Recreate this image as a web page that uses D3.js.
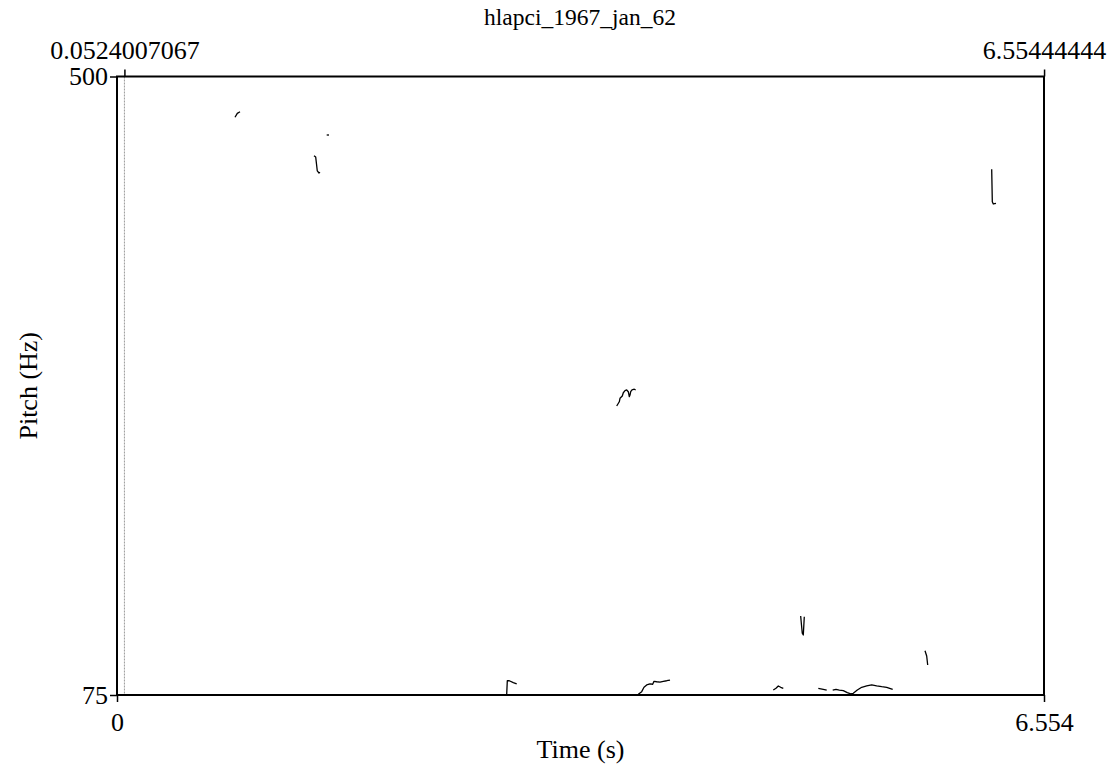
<!DOCTYPE html>
<html>
<head>
<meta charset="utf-8">
<script src="https://cdn.jsdelivr.net/npm/d3@7"></script>
<style>
  html, body { margin: 0; padding: 0; background: #fff; }
  svg { display: block; }
  text { font-family: "Liberation Serif", "Times New Roman", serif; fill: #000; }
</style>
</head>
<body>
<svg id="chart" width="1110" height="765"></svg>
<script>
// ---- data ----
const title = "hlapci_1967_jan_62";
const xDomain = [0, 6.554];
const yDomain = [75, 500];
const bottomTicks = [0, 6.554];
const bottomTickLabels = ["0", "6.554"];
const topTicks = [0.0524007067, 6.55444444];
const topTickLabels = ["0.0524007067", "6.55444444"];
const leftTicks = [75, 500];
const leftTickLabels = ["75", "500"];
const xLabel = "Time (s)";
const yLabel = "Pitch (Hz)";
const markerTime = 0.0524007067;

// pitch contour segments: times (s) and frequencies (Hz)
const segTimes = [
  [0.8343, 0.8505, 0.8696],
  [1.4826, 1.4989],
  [1.3928, 1.4048, 1.4105, 1.4161, 1.4282, 1.4352],
  [2.7552, 2.7595, 2.7736, 2.8019, 2.8259],
  [3.5329, 3.5513, 3.5563, 3.5725, 3.5796, 3.5916, 3.6036, 3.6150, 3.6220, 3.6270, 3.6319, 3.6411, 3.6574, 3.6673],
  [3.6856, 3.7097, 3.7259, 3.7450, 3.7684, 3.7874, 3.7966, 3.8157, 3.8390, 3.8624, 3.8864, 3.9098],
  [4.6401, 4.6592, 4.6755, 4.6924, 4.7108],
  [4.8337, 4.8394, 4.8450, 4.8522, 4.8557, 4.8592],
  [4.9583, 4.9936, 5.0177],
  [5.0601, 5.0834, 5.1068, 5.1350, 5.1633, 5.1873, 5.2057, 5.2340, 5.2651, 5.3004, 5.3358, 5.3711, 5.4065, 5.4419, 5.4843],
  [5.7126, 5.7246, 5.7317],
  [6.1842, 6.1863, 6.1885, 6.1956, 6.2146]
];
const segHz = [
  [472.0, 474.7, 475.8],
  [459.8, 459.8],
  [445.6, 444.7, 439.9, 435.1, 433.7, 434.2],
  [75.5, 84.8, 84.8, 83.5, 82.6],
  [273.6, 276.5, 278.9, 280.5, 282.7, 284.1, 284.6, 283.4, 280.0, 281.1, 283.4, 284.6, 285.1, 284.6],
  [75.5, 77.3, 80.3, 81.9, 82.6, 82.4, 84.4, 84.1, 83.9, 84.4, 84.8, 85.3],
  [78.4, 79.6, 81.2, 80.3, 79.6],
  [129.3, 123.1, 117.4, 116.2, 122.4, 128.8],
  [79.6, 78.9, 78.4],
  [78.4, 78.9, 78.4, 78.0, 76.6, 75.7, 76.2, 78.4, 80.3, 81.2, 81.9, 81.2, 80.7, 80.3, 78.9],
  [105.4, 101.8, 95.6],
  [436.2, 425.4, 414.0, 412.4, 412.9]
];

// ---- layout ----
const L = 117, R = 1044, T = 76.5, B = 695;
const svg = d3.select("#chart");
const x = d3.scaleLinear().domain(xDomain).range([L, R]);
const y = d3.scaleLinear().domain(yDomain).range([B, T]);
const fsTick = 26;
const fsTitle = 23.5;
const fsLabel = 26;

// marker dotted line
svg.append("line")
  .attr("x1", x(markerTime)).attr("x2", x(markerTime))
  .attr("y1", T).attr("y2", B)
  .attr("stroke", "#999").attr("stroke-width", 1)
  .attr("stroke-dasharray", "2,1");

// pitch contours
const line = d3.line().x(d => x(d[0])).y(d => y(d[1]));
segTimes.forEach((ts, i) => {
  const pts = ts.map((t, j) => [t, segHz[i][j]]);
  svg.append("path")
    .attr("d", line(pts))
    .attr("fill", "none")
    .attr("stroke", "#000")
    .attr("stroke-width", 1.3)
    .attr("stroke-linejoin", "round");
});

// frame
svg.append("rect")
  .attr("x", L).attr("y", T).attr("width", R - L).attr("height", B - T)
  .attr("fill", "none").attr("stroke", "#000").attr("stroke-width", 2);

// axes
function styleAxis(g) {
  g.select(".domain").remove();
  g.selectAll(".tick line").attr("stroke", "#000").attr("stroke-width", 1.5);
  g.selectAll(".tick text").attr("font-size", fsTick).attr("font-family", '"Liberation Serif", serif').attr("fill", "#000");
}
svg.append("g").attr("transform", `translate(0,${B})`)
  .call(d3.axisBottom(x).tickValues(bottomTicks).tickSize(7).tickPadding(10.5)
    .tickFormat((d, i) => bottomTickLabels[i]))
  .call(styleAxis);
svg.append("g").attr("transform", `translate(0,${T})`)
  .call(d3.axisTop(x).tickValues(topTicks).tickSize(7).tickPadding(10.5)
    .tickFormat((d, i) => topTickLabels[i]))
  .call(styleAxis);
svg.append("g").attr("transform", `translate(${L},0)`)
  .call(d3.axisLeft(y).tickValues(leftTicks).tickSize(7).tickPadding(2)
    .tickFormat((d, i) => leftTickLabels[i]))
  .call(styleAxis);

// title and labels
svg.append("text").attr("x", (L + R) / 2 - 0.5).attr("y", 25)
  .attr("text-anchor", "middle").attr("font-size", fsTitle).text(title);
svg.append("text").attr("x", (L + R) / 2).attr("y", 758)
  .attr("text-anchor", "middle").attr("font-size", fsLabel).text(xLabel);
svg.append("text")
  .attr("transform", `translate(37,${(T + B) / 2}) rotate(-90)`)
  .attr("text-anchor", "middle").attr("font-size", fsLabel).text(yLabel);
</script>
</body>
</html>
